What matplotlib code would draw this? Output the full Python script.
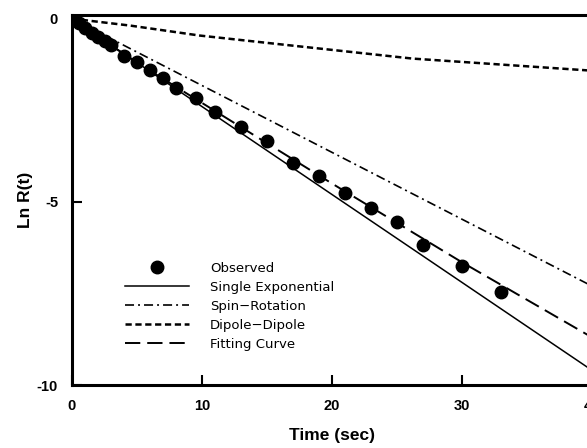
import matplotlib
matplotlib.use("Agg")
from matplotlib import pyplot as plt

# observed points
t_obs = [0, 0.5, 1, 1.5, 2, 2.5, 3, 4, 5, 6, 7, 8, 9.5, 11, 13, 15, 17, 19,
         21, 23, 25, 27, 30, 33]
lnr_obs = [0, -0.13, -0.26, -0.38, -0.5, -0.6, -0.71, -1.03, -1.17, -1.39,
           -1.63, -1.88, -2.17, -2.55, -2.96, -3.34, -3.94, -4.29, -4.76,
           -5.16, -5.54, -6.17, -6.74, -7.47]

# model curves
t_single = [0, 40]
lnr_single = [0, -9.6]
t_spin = [0, 40]
lnr_spin = [0, -7.3]
t_dipole = [0, 4.5, 9.8, 16.8, 26.2, 40]
lnr_dipole = [0, -0.19, -0.46, -0.73, -1.09, -1.42]
t_fit = [0, 2, 5, 10, 20, 30, 40]
lnr_fit = [0, -0.5, -1.2, -2.3, -4.5, -6.65, -8.7]

plt.rcParams['lines.scale_dashes'] = False
label_font = ['Liberation Sans', 'DejaVu Sans']

fig = plt.figure(figsize=(5.87, 4.48), dpi=100)
# axes runs past the right edge, as in the scanned figure
ax = fig.add_axes([72 / 587, 63 / 448, 520 / 587, 370 / 448])

ax.plot(t_obs, lnr_obs, 'o', color='black', markersize=9, label='Observed',
        zorder=5)
ax.plot(t_single, lnr_single, '-', color='black', lw=1.1,
        label='Single Exponential')
ax.plot(t_spin, lnr_spin, color='black', lw=1.2, dashes=(6.5, 2.9, 1.4, 2.9),
        label='Spin\u2212Rotation')
ax.plot(t_dipole, lnr_dipole, color='black', lw=1.8, dashes=(4.5, 2.6),
        label='Dipole\u2212Dipole')
ax.plot(t_fit, lnr_fit, color='black', lw=1.4, dashes=(11, 5),
        label='Fitting Curve')

ax.set_xlim(0, 40)
ax.set_ylim(-10, 0.1)
ax.set_xticks([0, 10, 20, 30, 40])
ax.set_yticks([0, -5, -10])
ax.set_yticklabels(['0', '-5', '-10'])

for s in ax.spines.values():
    s.set_linewidth(2.2)
ax.tick_params(direction='in', length=7, width=1.5, pad=10, labelsize=10.5)
for lab in ax.get_xticklabels() + ax.get_yticklabels():
    lab.set_fontweight('bold')
    lab.set_family(label_font)

ax.set_xlabel('Time (sec)', fontsize=12.5, fontweight='bold',
              family=label_font, labelpad=11)
ax.set_ylabel('Ln R(t)', fontsize=12.5, fontweight='bold',
              family=label_font, labelpad=3)

ax.legend(loc='upper left', bbox_to_anchor=(0.08, 0.365), frameon=False,
          handlelength=4.8, handletextpad=1.6, labelspacing=0.45,
          prop={'family': 'DejaVu Sans', 'size': 9.5}, numpoints=1)

fig.savefig('out.png', dpi=100)
